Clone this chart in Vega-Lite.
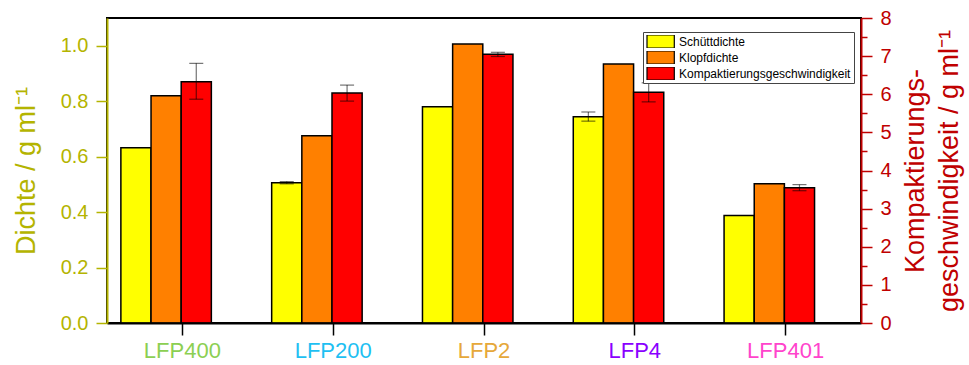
{
  "$schema": "https://vega.github.io/schema/vega-lite/v6.json",
  "width": 754,
  "height": 305,
  "autosize": {"type": "none"},
  "padding": {"left": 107, "top": 18, "right": 108, "bottom": 42},
  "background": "white",
  "config": {
    "font": "Liberation Sans",
    "view": {"stroke": "black", "strokeWidth": 2},
    "axis": {"labelOverlap": false},
    "legend": {
      "orient": "none",
      "legendX": 536,
      "legendY": 14,
      "labelFontSize": 12,
      "labelFont": "Liberation Sans",
      "labelColor": "black",
      "labelLimit": 400,
      "symbolType": "M-1,-1H3.2V1H-1Z",
      "symbolSize": 169,
      "symbolStrokeColor": "black",
      "symbolStrokeWidth": 1.2,
      "symbolOpacity": 1,
      "labelOffset": 18,
      "clipHeight": 13,
      "rowPadding": 3,
      "padding": 3,
      "strokeColor": "#444",
      "fillColor": "white"
    }
  },
  "datasets": {
    "d": [
      {"g": "LFP400", "s": "Schüttdichte", "v": 0.632, "lo": null, "hi": null},
      {"g": "LFP400", "s": "Klopfdichte", "v": 0.82, "lo": null, "hi": null},
      {"g": "LFP400", "s": "Kompaktierungsgeschwindigkeit", "v": 6.33, "lo": 5.87, "hi": 6.81},
      {"g": "LFP200", "s": "Schüttdichte", "v": 0.506, "lo": 0.502, "hi": 0.510},
      {"g": "LFP200", "s": "Klopfdichte", "v": 0.675, "lo": null, "hi": null},
      {"g": "LFP200", "s": "Kompaktierungsgeschwindigkeit", "v": 6.03, "lo": 5.82, "hi": 6.24},
      {"g": "LFP2", "s": "Schüttdichte", "v": 0.78, "lo": null, "hi": null},
      {"g": "LFP2", "s": "Klopfdichte", "v": 1.006, "lo": null, "hi": null},
      {"g": "LFP2", "s": "Kompaktierungsgeschwindigkeit", "v": 7.05, "lo": 6.99, "hi": 7.10},
      {"g": "LFP4", "s": "Schüttdichte", "v": 0.744, "lo": 0.728, "hi": 0.761},
      {"g": "LFP4", "s": "Klopfdichte", "v": 0.934, "lo": null, "hi": null},
      {"g": "LFP4", "s": "Kompaktierungsgeschwindigkeit", "v": 6.05, "lo": 5.80, "hi": 6.30},
      {"g": "LFP401", "s": "Schüttdichte", "v": 0.388, "lo": null, "hi": null},
      {"g": "LFP401", "s": "Klopfdichte", "v": 0.502, "lo": null, "hi": null},
      {"g": "LFP401", "s": "Kompaktierungsgeschwindigkeit", "v": 3.55, "lo": 3.47, "hi": 3.63}
    ]
  },
  "data": {"name": "d"},
  "layer": [
    {
      "layer": [
        {
          "transform": [{"filter": "datum.s !== 'Kompaktierungsgeschwindigkeit'"}],
          "mark": {"type": "bar", "stroke": "black", "strokeWidth": 1.5},
          "encoding": {
            "x": {
              "field": "g", "type": "nominal", "title": null,
              "scale": {"domain": ["LFP400", "LFP200", "LFP2", "LFP4", "LFP401"], "paddingInner": 0, "paddingOuter": 0},
              "axis": {
                "title": null, "orient": "bottom", "labelAngle": 0,
                "domainColor": "black", "domainWidth": 2,
                "tickColor": "black", "tickWidth": 1.5, "tickSize": 12,
                "labelFontSize": 22, "labelPadding": 5, "labelFont": "Liberation Sans",
                "labelColor": {
                  "condition": [
                    {"test": "datum.value === 'LFP400'", "value": "#8CCF52"},
                    {"test": "datum.value === 'LFP200'", "value": "#1EC0F2"},
                    {"test": "datum.value === 'LFP2'", "value": "#E6A83A"},
                    {"test": "datum.value === 'LFP4'", "value": "#8A00FF"}
                  ],
                  "value": "#FF44CC"
                },
                "zindex": 1
              }
            },
            "xOffset": {
              "field": "s", "type": "nominal",
              "scale": {"domain": ["Schüttdichte", "Klopfdichte", "Kompaktierungsgeschwindigkeit"], "paddingInner": 0, "paddingOuter": 1, "align": 0.23}
            },
            "y": {
              "field": "v", "type": "quantitative",
              "scale": {"domain": [0, 1.1], "nice": false, "zero": true},
              "axis": {
                "orient": "left",
                "title": "Dichte / g ml⁻¹",
                "values": [0, 0.1, 0.2, 0.3, 0.4, 0.5, 0.6, 0.7, 0.8, 0.9, 1.0],
                "labelExpr": "abs(datum.value*5 - round(datum.value*5)) < 0.001 ? format(datum.value, '.1f') : ''",
                "tickSize": {"condition": {"test": "abs(datum.value*5 - round(datum.value*5)) < 0.001", "value": 11}, "value": 6},
                "labelOverlap": false,
                "grid": false,
                "domainColor": "#B4B400", "domainWidth": 2,
                "tickColor": "#B4B400", "tickWidth": 1.5,
                "labelColor": "#B4B400", "labelFontSize": 20, "labelPadding": 8, "labelFont": "Liberation Sans",
                "titleColor": "#B4B400", "titleFontSize": 27, "titleFontWeight": "normal", "titleFont": "Liberation Sans", "titlePadding": 20,
                "zindex": 1
              }
            },
            "color": {
              "field": "s", "type": "nominal",
              "scale": {"domain": ["Schüttdichte", "Klopfdichte", "Kompaktierungsgeschwindigkeit"], "range": ["#FFFF00", "#FF8000", "#FF0000"]},
              "legend": {"title": null}
            }
          }
        },
        {
          "transform": [{"filter": "datum.s === 'Schüttdichte' && datum.lo != null"}],
          "mark": {"type": "rule", "color": "black", "opacity": 0.55, "strokeWidth": 1.2},
          "encoding": {
            "x": {"field": "g", "type": "nominal", "title": null, "scale": {"domain": ["LFP400", "LFP200", "LFP2", "LFP4", "LFP401"]}},
            "xOffset": {"field": "s", "type": "nominal", "scale": {"domain": ["Schüttdichte", "Klopfdichte", "Kompaktierungsgeschwindigkeit"]}},
            "y": {"field": "lo", "type": "quantitative"},
            "y2": {"field": "hi"}
          }
        },
        {
          "transform": [{"filter": "datum.s === 'Schüttdichte' && datum.lo != null"}],
          "mark": {"type": "tick", "color": "black", "opacity": 0.55, "thickness": 1.2, "size": 14},
          "encoding": {
            "x": {"field": "g", "type": "nominal", "title": null, "scale": {"domain": ["LFP400", "LFP200", "LFP2", "LFP4", "LFP401"]}},
            "xOffset": {"field": "s", "type": "nominal", "scale": {"domain": ["Schüttdichte", "Klopfdichte", "Kompaktierungsgeschwindigkeit"]}},
            "y": {"field": "lo", "type": "quantitative"}
          }
        },
        {
          "transform": [{"filter": "datum.s === 'Schüttdichte' && datum.lo != null"}],
          "mark": {"type": "tick", "color": "black", "opacity": 0.55, "thickness": 1.2, "size": 14},
          "encoding": {
            "x": {"field": "g", "type": "nominal", "title": null, "scale": {"domain": ["LFP400", "LFP200", "LFP2", "LFP4", "LFP401"]}},
            "xOffset": {"field": "s", "type": "nominal", "scale": {"domain": ["Schüttdichte", "Klopfdichte", "Kompaktierungsgeschwindigkeit"]}},
            "y": {"field": "hi", "type": "quantitative"}
          }
        }
      ]
    },
    {
      "layer": [
        {
          "transform": [{"filter": "datum.s === 'Kompaktierungsgeschwindigkeit'"}],
          "mark": {"type": "bar", "stroke": "black", "strokeWidth": 1.5},
          "encoding": {
            "x": {"field": "g", "type": "nominal", "title": null, "scale": {"domain": ["LFP400", "LFP200", "LFP2", "LFP4", "LFP401"]}},
            "xOffset": {"field": "s", "type": "nominal", "scale": {"domain": ["Schüttdichte", "Klopfdichte", "Kompaktierungsgeschwindigkeit"]}},
            "y": {
              "field": "v", "type": "quantitative",
              "scale": {"domain": [0, 8], "nice": false, "zero": true},
              "axis": {
                "orient": "right",
                "title": ["Kompaktierungs-", "geschwindigkeit / g ml⁻¹"],
                "titleAngle": 270,
                "values": [0, 0.5, 1, 1.5, 2, 2.5, 3, 3.5, 4, 4.5, 5, 5.5, 6, 6.5, 7, 7.5, 8],
                "labelExpr": "datum.value == floor(datum.value) ? format(datum.value, 'd') : ''",
                "tickSize": {"condition": {"test": "datum.value == floor(datum.value)", "value": 11}, "value": 6},
                "labelOverlap": false,
                "grid": false,
                "domainColor": "#C00000", "domainWidth": 2,
                "tickColor": "#C00000", "tickWidth": 1.5,
                "labelColor": "#C00000", "labelFontSize": 20, "labelPadding": 8, "labelFont": "Liberation Sans",
                "titleColor": "#C00000", "titleFontSize": 27, "titleFontWeight": "normal", "titleFont": "Liberation Sans", "titlePadding": 4, "titleLineHeight": 34,
                "zindex": 1
              }
            },
            "color": {
              "field": "s", "type": "nominal",
              "scale": {"domain": ["Schüttdichte", "Klopfdichte", "Kompaktierungsgeschwindigkeit"], "range": ["#FFFF00", "#FF8000", "#FF0000"]},
              "legend": {"title": null}
            }
          }
        },
        {
          "transform": [{"filter": "datum.s === 'Kompaktierungsgeschwindigkeit' && datum.lo != null"}],
          "mark": {"type": "rule", "color": "black", "opacity": 0.55, "strokeWidth": 1.2},
          "encoding": {
            "x": {"field": "g", "type": "nominal", "title": null, "scale": {"domain": ["LFP400", "LFP200", "LFP2", "LFP4", "LFP401"]}},
            "xOffset": {"field": "s", "type": "nominal", "scale": {"domain": ["Schüttdichte", "Klopfdichte", "Kompaktierungsgeschwindigkeit"]}},
            "y": {
              "field": "lo", "type": "quantitative",
              "axis": {
                "orient": "right",
                "title": ["Kompaktierungs-", "geschwindigkeit / g ml⁻¹"],
                "titleAngle": 270,
                "values": [0, 0.5, 1, 1.5, 2, 2.5, 3, 3.5, 4, 4.5, 5, 5.5, 6, 6.5, 7, 7.5, 8],
                "labelExpr": "datum.value == floor(datum.value) ? format(datum.value, 'd') : ''",
                "tickSize": {"condition": {"test": "datum.value == floor(datum.value)", "value": 11}, "value": 6},
                "labelOverlap": false,
                "grid": false,
                "domainColor": "#C00000", "domainWidth": 2,
                "tickColor": "#C00000", "tickWidth": 1.5,
                "labelColor": "#C00000", "labelFontSize": 20, "labelPadding": 8, "labelFont": "Liberation Sans",
                "titleColor": "#C00000", "titleFontSize": 27, "titleFontWeight": "normal", "titleFont": "Liberation Sans", "titlePadding": 4, "titleLineHeight": 34,
                "zindex": 1
              }
            },
            "y2": {"field": "hi"}
          }
        },
        {
          "transform": [{"filter": "datum.s === 'Kompaktierungsgeschwindigkeit' && datum.lo != null"}],
          "mark": {"type": "tick", "color": "black", "opacity": 0.55, "thickness": 1.2, "size": 14},
          "encoding": {
            "x": {"field": "g", "type": "nominal", "title": null, "scale": {"domain": ["LFP400", "LFP200", "LFP2", "LFP4", "LFP401"]}},
            "xOffset": {"field": "s", "type": "nominal", "scale": {"domain": ["Schüttdichte", "Klopfdichte", "Kompaktierungsgeschwindigkeit"]}},
            "y": {
              "field": "lo", "type": "quantitative",
              "axis": {
                "orient": "right",
                "title": ["Kompaktierungs-", "geschwindigkeit / g ml⁻¹"],
                "titleAngle": 270,
                "values": [0, 0.5, 1, 1.5, 2, 2.5, 3, 3.5, 4, 4.5, 5, 5.5, 6, 6.5, 7, 7.5, 8],
                "labelExpr": "datum.value == floor(datum.value) ? format(datum.value, 'd') : ''",
                "tickSize": {"condition": {"test": "datum.value == floor(datum.value)", "value": 11}, "value": 6},
                "labelOverlap": false,
                "grid": false,
                "domainColor": "#C00000", "domainWidth": 2,
                "tickColor": "#C00000", "tickWidth": 1.5,
                "labelColor": "#C00000", "labelFontSize": 20, "labelPadding": 8, "labelFont": "Liberation Sans",
                "titleColor": "#C00000", "titleFontSize": 27, "titleFontWeight": "normal", "titleFont": "Liberation Sans", "titlePadding": 4, "titleLineHeight": 34,
                "zindex": 1
              }
            }
          }
        },
        {
          "transform": [{"filter": "datum.s === 'Kompaktierungsgeschwindigkeit' && datum.lo != null"}],
          "mark": {"type": "tick", "color": "black", "opacity": 0.55, "thickness": 1.2, "size": 14},
          "encoding": {
            "x": {"field": "g", "type": "nominal", "title": null, "scale": {"domain": ["LFP400", "LFP200", "LFP2", "LFP4", "LFP401"]}},
            "xOffset": {"field": "s", "type": "nominal", "scale": {"domain": ["Schüttdichte", "Klopfdichte", "Kompaktierungsgeschwindigkeit"]}},
            "y": {
              "field": "hi", "type": "quantitative",
              "axis": {
                "orient": "right",
                "title": ["Kompaktierungs-", "geschwindigkeit / g ml⁻¹"],
                "titleAngle": 270,
                "values": [0, 0.5, 1, 1.5, 2, 2.5, 3, 3.5, 4, 4.5, 5, 5.5, 6, 6.5, 7, 7.5, 8],
                "labelExpr": "datum.value == floor(datum.value) ? format(datum.value, 'd') : ''",
                "tickSize": {"condition": {"test": "datum.value == floor(datum.value)", "value": 11}, "value": 6},
                "labelOverlap": false,
                "grid": false,
                "domainColor": "#C00000", "domainWidth": 2,
                "tickColor": "#C00000", "tickWidth": 1.5,
                "labelColor": "#C00000", "labelFontSize": 20, "labelPadding": 8, "labelFont": "Liberation Sans",
                "titleColor": "#C00000", "titleFontSize": 27, "titleFontWeight": "normal", "titleFont": "Liberation Sans", "titlePadding": 4, "titleLineHeight": 34,
                "zindex": 1
              }
            }
          }
        }
      ]
    }
  ],
  "resolve": {"scale": {"y": "independent"}, "axis": {"y": "independent"}}
}
